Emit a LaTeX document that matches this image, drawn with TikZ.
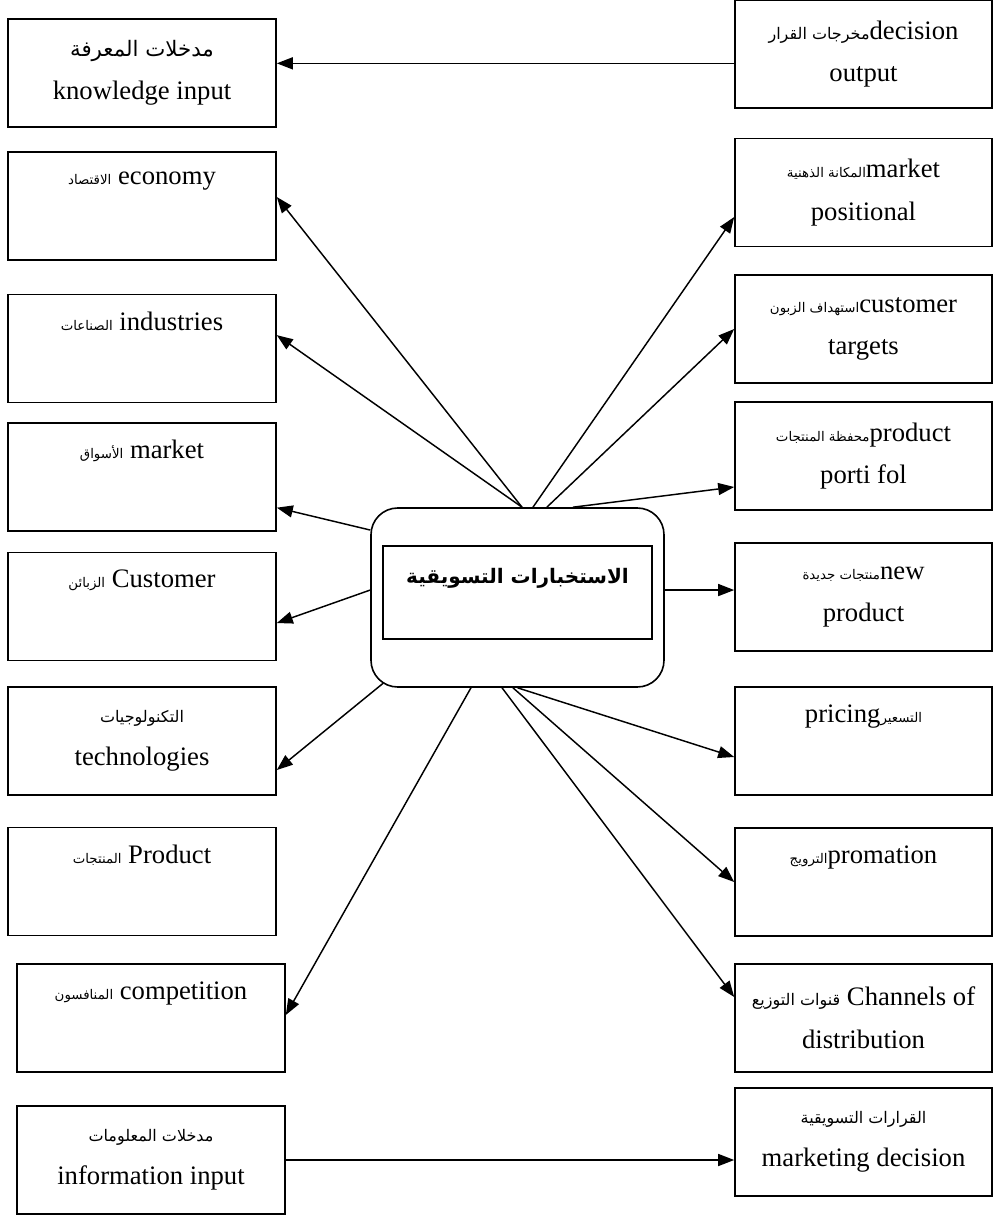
\documentclass[tikz,border=0pt]{standalone}
\usepackage{fontspec}
\setmainfont{Liberation Serif}
\newfontfamily\arabicfont[Script=Arabic]{DejaVu Sans}
\TeXXeTstate=1
\newcommand{\arbig}[1]{{\arabicfont\fontsize{16}{20}\selectfont\beginR #1\endR}}
\newcommand{\armid}[1]{{\arabicfont\fontsize{12}{16}\selectfont\beginR #1\endR}}
\newcommand{\arsmall}[1]{{\arabicfont\fontsize{10}{14}\selectfont\beginR #1\endR}}
\usetikzlibrary{arrows.meta}

\tikzset{
  box/.style={draw,line width=1.2pt,minimum width=201pt,minimum height=81pt,inner sep=0pt,align=center,font=\fontsize{20}{32}\selectfont},
  rbox/.style={box,minimum width=192.75pt},
  arr/.style={->,line width=1.1pt}
}

\begin{document}
\begin{tikzpicture}[x=0.75pt,y=-0.75pt,>={Triangle[length=12pt,width=9pt]}]
        \useasboundingbox (0,0) rectangle (993,1215);
        % left column
        \node[box] (kin) at (142,73) {\arbig{مدخلات المعرفة}\\knowledge input};
        \node[box] (econ) at (142,206) {\arsmall{الاقتصاد} economy\\\strut};
        \node[box] (ind) at (142,348.5) {\arsmall{الصناعات} industries\\\strut};
        \node[box] (mkt) at (142,477) {\arsmall{الأسواق} market\\\strut};
        \node[box] (cust) at (142,606.5) {\arsmall{الزبائن} Customer\\\strut};
        \node[box] (tech) at (142,741) {\armid{التكنولوجيات}\\technologies};
        \node[box] (prod) at (142,881.5) {\arsmall{المنتجات} Product\\\strut};
        \node[box] (comp) at (151,1018) {\arsmall{المنافسون} competition\\\strut};
        \node[box] (info) at (151,1160) {\armid{مدخلات المعلومات}\\information input};
        % right column
        \node[rbox] (dout) at (863.5,54) {\armid{مخرجات القرار}decision\\output};
        \node[rbox] (mpos) at (863.5,192.5) {\arsmall{المكانة الذهنية}market\\positional};
        \node[rbox] (ctar) at (863.5,329) {\arsmall{استهداف الزبون}customer\\targets};
        \node[rbox] (ppf) at (863.5,456) {\arsmall{محفظة المنتجات}product\\porti fol};
        \node[rbox] (newp) at (863.5,597) {\arsmall{منتجات جديدة}new\\product};
        \node[rbox] (pric) at (863.5,741) {pricing\arsmall{التسعير}\\\strut};
        \node[rbox] (prom) at (863.5,882) {\arsmall{الترويج}promation\\\strut};
        \node[rbox] (chan) at (863.5,1018) {\armid{قنوات التوزيع} Channels of\\distribution};
        \node[rbox] (mdec) at (863.5,1142) {\armid{القرارات التسويقية}\\marketing decision};
        % centre
        \node[draw,line width=1.2pt,rounded corners=20pt,minimum width=219.75pt,minimum height=134.25pt] (ctr) at (517.5,597.5) {};
        \node[draw,line width=1.2pt,minimum width=201.75pt,minimum height=69.75pt,inner sep=0pt,align=center,font=\fontsize{20}{32}\selectfont] (core) at (517.5,592.5) {{\arabicfont\bfseries\fontsize{15}{20}\selectfont\beginR الاستخبارات التسويقية\endR}\\[-16pt]\strut};
        % connectors
        \draw[arr] ([yshift=-7pt]dout.west) -- ([yshift=-7pt]dout.west -| kin.east);
        \draw[arr] ([xshift=3.4pt]ctr.north) -- ([yshift=6.75pt]econ.east);
        \draw[arr] ([xshift=3.4pt]ctr.north) -- ([yshift=10pt]ind.east);
        \draw[arr] ([yshift=50.6pt]ctr.west) -- ([yshift=-23pt]mkt.east);
        \draw[arr] ([yshift=5.6pt]ctr.west) -- ([yshift=-12.4pt]cust.east);
        \draw[arr] ([xshift=-100.9pt,yshift=3.3pt]ctr.south) -- ([yshift=-21.75pt]tech.east);
        \draw[arr] ([xshift=-34.9pt]ctr.south) -- ([yshift=2.25pt]comp.east);
        \draw[arr] ([xshift=11.6pt]ctr.north) -- ([yshift=-18.4pt]mpos.west);
        \draw[arr] ([xshift=22pt]ctr.north) -- (ctar.west);
        \draw[arr] ([xshift=41.6pt]ctr.north) -- ([yshift=-23.25pt]ppf.west);
        \draw[arr] ([yshift=5.6pt]ctr.east) -- ([yshift=5.6pt]ctr.east -| newp.west);
        \draw[arr] (ctr.south) -- ([yshift=-12pt]pric.west);
        \draw[arr] ([xshift=-3.4pt]ctr.south) -- (prom.west);
        \draw[arr] ([xshift=-11.6pt]ctr.south) -- ([yshift=15.75pt]chan.west);
        \draw[arr] (info.east) -- (info.east -| mdec.west);
    \end{tikzpicture}
\end{document}
